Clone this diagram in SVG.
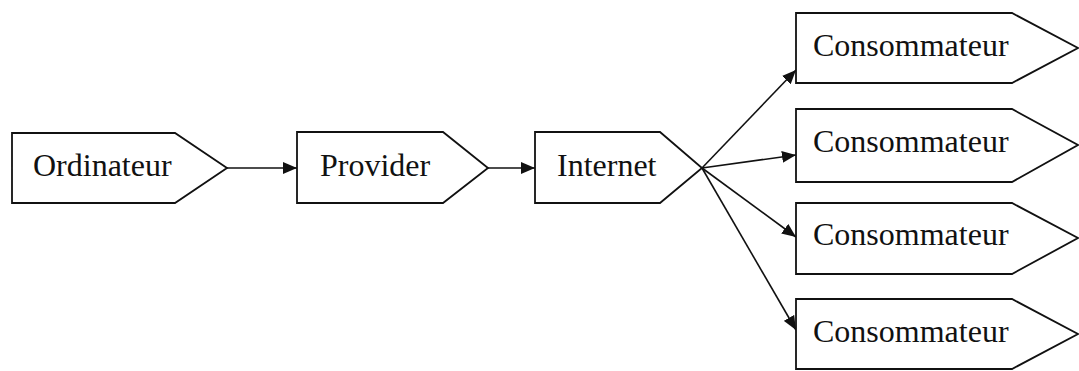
<svg xmlns="http://www.w3.org/2000/svg" width="1079" height="371" viewBox="0 0 1079 371">
<style>
.box{fill:#fff;stroke:#111;stroke-width:1.8;stroke-linejoin:miter}
.lbl{font-family:"Liberation Serif","Times New Roman",serif;font-size:32px;fill:#111}
.con{stroke:#111;stroke-width:1.6;fill:none;marker-end:url(#ah)}
</style>
<defs>
<marker id="ah" markerUnits="userSpaceOnUse" markerWidth="15" markerHeight="12" refX="14" refY="6" orient="auto">
<path d="M0,0 L14,6 L0,12 Z" fill="#111"/>
</marker>
</defs>
<rect width="1079" height="371" fill="#fff"/>
<g id="connectors">
<line class="con" x1="227" y1="168" x2="297" y2="168"/>
<line class="con" x1="488" y1="168" x2="535" y2="168"/>
<line class="con" x1="702" y1="168" x2="796" y2="70"/>
<line class="con" x1="702" y1="168" x2="796" y2="155"/>
<line class="con" x1="702" y1="168" x2="796" y2="237"/>
<line class="con" x1="702" y1="168" x2="796" y2="330"/>
</g>
<g id="ordinateur">
<path class="box" d="M12,133 H175 L227,168 L175,203 H12 Z"/>
<text class="lbl" x="33" y="176">Ordinateur</text>
</g>
<g id="provider">
<path class="box" d="M297,132 H443 L488,168 L443,203 H297 Z"/>
<text class="lbl" x="320" y="176">Provider</text>
</g>
<g id="internet">
<path class="box" d="M535,132 H660 L702,168 L660,203 H535 Z"/>
<text class="lbl" x="557" y="176">Internet</text>
</g>
<g id="consommateur1">
<path class="box" d="M796,13 H1012 L1078,48 L1012,83 H796 Z"/>
<text class="lbl" x="813" y="56">Consommateur</text>
</g>
<g id="consommateur2">
<path class="box" d="M796,109 H1012 L1078,145 L1012,182 H796 Z"/>
<text class="lbl" x="813" y="152">Consommateur</text>
</g>
<g id="consommateur3">
<path class="box" d="M796,203 H1012 L1078,238 L1012,274 H796 Z"/>
<text class="lbl" x="813" y="245">Consommateur</text>
</g>
<g id="consommateur4">
<path class="box" d="M796,299 H1012 L1078,334 L1012,369 H796 Z"/>
<text class="lbl" x="813" y="342">Consommateur</text>
</g>
</svg>
